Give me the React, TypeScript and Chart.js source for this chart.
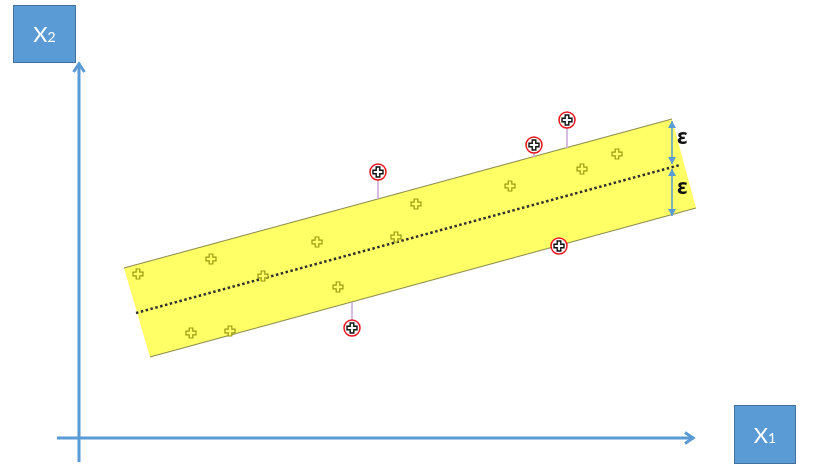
import React, { useEffect, useRef } from 'react';
import { Chart, registerables } from 'chart.js';
Chart.register(...registerables);

// Feature space extent (X1 horizontal, X2 vertical)
const X_MIN = -7.9;
const X_MAX = 74.2;
const Y_MIN = -3.0;
const Y_MAX = 43.8;

// epsilon-tube edges and regression line
const bandTopX = [4.5, 59.3];
const bandTopY = [17.0, 31.9];
const bandBottomX = [7.1, 61.7];
const bandBottomY = [8.1, 23.0];
const regressionX = [5.7, 60.1];
const regressionY = [12.5, 27.3];

// points inside the tube
const insideX = [5.9, 13.2, 18.4, 23.8, 11.2, 15.1, 25.9, 31.7, 33.7, 43.1, 50.3, 53.8];
const insideY = [16.4, 17.9, 16.2, 19.6, 10.5, 10.7, 15.1, 20.1, 23.4, 25.2, 26.9, 28.4];

// points on / outside the tube (support vectors) and where their slack lines meet the tube
const outlierX = [29.9, 27.3, 45.5, 48.8, 48.0];
const outlierY = [26.6, 11.0, 29.3, 31.8, 19.2];
const slackEndY: (number | null)[] = [23.9, 13.6, 28.1, 29.0, null];

// epsilon arrows
const epsX = 59.3;
const epsUpperY = [31.7, 27.4];
const epsLowerY = [26.9, 22.2];
const epsLabelY = [30.0, 25.0];
const epsLabel = 'ε';

// axes
const yAxisX = [0, 0];
const yAxisY = [-2.4, 37.5];
const xAxisX = [-2.2, 61.5];
const xAxisY = [0, 0];

// axis label boxes
const axisLabels = ['X', 'X'];
const axisSubs = ['2', '1'];
const boxX0 = [-6.6, 65.5];
const boxX1 = [-0.4, 71.6];
const boxY0 = [37.6, -2.5];
const boxY1 = [43.3, 3.3];

const AXIS_BLUE = '#5B9BD5';
const BAND_YELLOW = '#FFFF66';
const EDGE = '#8E8E4E';

function plusPath(ctx: CanvasRenderingContext2D, m: number, h: number, a: number) {
  ctx.beginPath();
  ctx.moveTo(m - a, m - h);
  ctx.lineTo(m + a, m - h);
  ctx.lineTo(m + a, m - a);
  ctx.lineTo(m + h, m - a);
  ctx.lineTo(m + h, m + a);
  ctx.lineTo(m + a, m + a);
  ctx.lineTo(m + a, m + h);
  ctx.lineTo(m - a, m + h);
  ctx.lineTo(m - a, m + a);
  ctx.lineTo(m - h, m + a);
  ctx.lineTo(m - h, m - a);
  ctx.lineTo(m - a, m - a);
  ctx.closePath();
}

function makeInsideMarker() {
  const c = document.createElement('canvas');
  c.width = 12;
  c.height = 12;
  const ctx = c.getContext('2d')!;
  plusPath(ctx, 6, 5, 1.8);
  ctx.fillStyle = BAND_YELLOW;
  ctx.fill();
  ctx.lineWidth = 1.2;
  ctx.strokeStyle = '#9A9A10';
  ctx.stroke();
  return c;
}

function makeOutlierMarker() {
  const c = document.createElement('canvas');
  c.width = 20;
  c.height = 20;
  const ctx = c.getContext('2d')!;
  ctx.beginPath();
  ctx.arc(10, 10, 8, 0, Math.PI * 2);
  ctx.fillStyle = '#ffffff';
  ctx.fill();
  ctx.lineWidth = 1.5;
  ctx.strokeStyle = '#E8141B';
  ctx.stroke();
  plusPath(ctx, 10, 5, 1.8);
  ctx.fillStyle = '#ffffff';
  ctx.fill();
  ctx.lineWidth = 1.4;
  ctx.strokeStyle = '#111111';
  ctx.stroke();
  return c;
}

const pts = (xs: number[], ys: number[]) => xs.map((x, i) => ({ x, y: ys[i] }));

const overlayPlugin = {
  id: 'svrOverlay',
  afterDatasetsDraw(chart: any) {
    const { ctx } = chart;
    const sx = chart.scales.x;
    const sy = chart.scales.y;
    const px = (v: number) => sx.getPixelForValue(v);
    const py = (v: number) => sy.getPixelForValue(v);
    ctx.save();

    // open chevrons on axes
    ctx.strokeStyle = AXIS_BLUE;
    ctx.lineWidth = 3;
    ctx.lineCap = 'butt';
    ctx.lineJoin = 'miter';
    const yt = { x: px(yAxisX[1]), y: py(yAxisY[1]) };
    ctx.beginPath();
    ctx.moveTo(yt.x - 5.5, yt.y + 9);
    ctx.lineTo(yt.x, yt.y + 1);
    ctx.lineTo(yt.x + 5.5, yt.y + 9);
    ctx.stroke();
    const xt = { x: px(xAxisX[1]), y: py(xAxisY[1]) };
    ctx.beginPath();
    ctx.moveTo(xt.x - 9, xt.y - 5.5);
    ctx.lineTo(xt.x - 1, xt.y);
    ctx.lineTo(xt.x - 9, xt.y + 5.5);
    ctx.stroke();

    // epsilon arrow heads
    ctx.fillStyle = AXIS_BLUE;
    const head = (x: number, y: number, dir: number) => {
      ctx.beginPath();
      ctx.moveTo(x, y);
      ctx.lineTo(x - 4, y + dir * 7);
      ctx.lineTo(x + 4, y + dir * 7);
      ctx.closePath();
      ctx.fill();
    };
    const ex = px(epsX);
    head(ex, py(epsUpperY[0]), 1);
    head(ex, py(epsUpperY[1]), -1);
    head(ex, py(epsLowerY[0]), 1);
    head(ex, py(epsLowerY[1]), -1);

    // epsilon labels
    ctx.fillStyle = '#111111';
    ctx.font = 'bold 21px "Noto Sans", "DejaVu Sans", sans-serif';
    ctx.textAlign = 'left';
    ctx.textBaseline = 'middle';
    epsLabelY.forEach((v) => ctx.fillText(epsLabel, ex + 5, py(v)));

    // axis label boxes
    for (let i = 0; i < axisLabels.length; i++) {
      const l = Math.round(px(boxX0[i])) + 0.5;
      const r = Math.round(px(boxX1[i])) + 0.5;
      const t = Math.round(py(boxY1[i])) + 0.5;
      const b = Math.round(py(boxY0[i])) + 0.5;
      ctx.fillStyle = AXIS_BLUE;
      ctx.fillRect(l, t, r - l, b - t);
      ctx.strokeStyle = '#41719C';
      ctx.lineWidth = 1;
      ctx.strokeRect(l, t, r - l, b - t);
      ctx.fillStyle = '#ffffff';
      ctx.textBaseline = 'alphabetic';
      ctx.textAlign = 'left';
      ctx.font = '22px Lato, "Open Sans", sans-serif';
      const mw = ctx.measureText(axisLabels[i]).width;
      ctx.font = '14px Lato, "Open Sans", sans-serif';
      const sw = ctx.measureText(axisSubs[i]).width;
      const total = mw + sw;
      const cx = (l + r) / 2;
      const base = (t + b) / 2 + 8;
      ctx.font = '22px Lato, "Open Sans", sans-serif';
      ctx.fillText(axisLabels[i], cx - total / 2, base);
      ctx.font = '14px Lato, "Open Sans", sans-serif';
      ctx.fillText(axisSubs[i], cx - total / 2 + mw, base);
    }
    ctx.restore();
  },
};

export default function App() {
  const ref = useRef<HTMLCanvasElement | null>(null);
  useEffect(() => {
    if (!ref.current) return;
    const insideMarker = makeInsideMarker();
    const outlierMarker = makeOutlierMarker();

    const slackSets = outlierX
      .map((x, i) =>
        slackEndY[i] === null
          ? null
          : {
              data: [
                { x, y: outlierY[i] },
                { x, y: slackEndY[i] as number },
              ],
              borderColor: '#C6A6DA',
              borderWidth: 1.5,
              pointRadius: 0,
              fill: false,
              order: 6,
            }
      )
      .filter(Boolean) as any[];

    const bandCorners = [
      { x: bandTopX[0], y: bandTopY[0] },
      { x: bandTopX[1], y: bandTopY[1] },
      { x: bandBottomX[1], y: bandBottomY[1] },
      { x: bandBottomX[0], y: bandBottomY[0] },
    ];

    const chart = new Chart(ref.current, {
      type: 'line',
      data: {
        datasets: [
          {
            data: bandCorners,
            borderColor: 'transparent',
            backgroundColor: BAND_YELLOW,
            fill: 'shape',
            pointRadius: 0,
            order: 10,
          },
          {
            data: pts(bandTopX, bandTopY),
            borderColor: EDGE,
            borderWidth: 1.2,
            pointRadius: 0,
            fill: false,
            order: 9,
          },
          {
            data: pts(bandBottomX, bandBottomY),
            borderColor: EDGE,
            borderWidth: 1.2,
            pointRadius: 0,
            fill: false,
            order: 9,
          },
          {
            data: pts(regressionX, regressionY),
            borderColor: '#2F2F2F',
            borderWidth: 2.5,
            borderDash: [2.5, 2.5],
            pointRadius: 0,
            fill: false,
            order: 8,
          },
          {
            data: pts([epsX, epsX], epsUpperY),
            borderColor: AXIS_BLUE,
            borderWidth: 1.5,
            pointRadius: 0,
            fill: false,
            order: 7,
          },
          {
            data: pts([epsX, epsX], epsLowerY),
            borderColor: AXIS_BLUE,
            borderWidth: 1.5,
            pointRadius: 0,
            fill: false,
            order: 7,
          },
          ...slackSets,
          {
            data: pts(insideX, insideY),
            showLine: false,
            pointStyle: insideMarker as any,
            pointRadius: 6,
            order: 4,
          },
          {
            data: pts(outlierX, outlierY),
            showLine: false,
            pointStyle: outlierMarker as any,
            pointRadius: 9,
            order: 3,
          },
          {
            data: pts(yAxisX, yAxisY),
            borderColor: AXIS_BLUE,
            borderWidth: 3,
            pointRadius: 0,
            fill: false,
            order: 2,
          },
          {
            data: pts(xAxisX, xAxisY),
            borderColor: AXIS_BLUE,
            borderWidth: 3,
            pointRadius: 0,
            fill: false,
            order: 2,
          },
        ] as any,
      },
      options: {
        animation: false,
        responsive: false,
        maintainAspectRatio: false,
        layout: { padding: 0, autoPadding: false } as any,
        events: [],
        elements: { line: { tension: 0 } },
        scales: {
          x: { type: 'linear', min: X_MIN, max: X_MAX, display: false },
          y: { type: 'linear', min: Y_MIN, max: Y_MAX, display: false },
        },
        plugins: {
          legend: { display: false },
          tooltip: { enabled: false },
        },
      },
      plugins: [overlayPlugin],
    });
    return () => chart.destroy();
  }, []);

  return (
    <div style={{ position: 'fixed', left: 0, top: 0, width: 821, height: 468, background: '#ffffff' }}>
      <canvas ref={ref} width={821} height={468} style={{ display: 'block', width: 821, height: 468 }} />
    </div>
  );
}
